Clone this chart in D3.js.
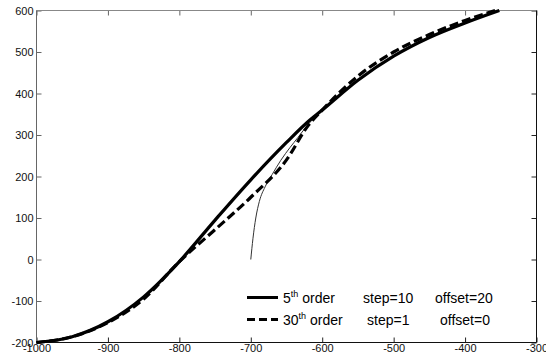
<!DOCTYPE html>
<html>
<head>
<meta charset="utf-8">
<script src="https://cdn.jsdelivr.net/npm/d3@7"></script>
<style>
  body { margin: 0; background: #fff; }
  text { font-family: Arial, "Liberation Sans", sans-serif; }
</style>
</head>
<body>
<div id="chart"></div>
<script>
// curve values
const xTicks = [-1000, -900, -800, -700, -600, -500, -400, -300];
const yTicks = [-200, -100, 0, 100, 200, 300, 400, 500, 600];

const order5 = [
    [-1000, -200], [-950, -186], [-900, -150], [-850, -90], [-800, -5],
    [-750, 95], [-700, 192], [-650, 282], [-620, 332], [-600, 360],
    [-550, 432], [-500, 490], [-450, 535], [-400, 570], [-352, 600]
];
const order30 = [
    [-1000, -200], [-950, -186], [-900, -152], [-850, -95], [-800, -5],
    [-750, 72], [-700, 150], [-650, 240], [-620, 322], [-600, 360],
    [-550, 442], [-500, 500], [-450, 542], [-400, 576], [-358, 600]
];
const thin = [
    [-700, 0], [-697, 50], [-693, 100], [-688, 140], [-680, 175],
    [-670, 205], [-658, 239], [-645, 270], [-634, 294], [-620, 325], [-605, 352]
];

const svgWidth = 546, svgHeight = 361;
const margin = { top: 10.5, left: 36.5, right: 9.5, bottom: 18.5 };
const width = svgWidth - margin.left - margin.right;
const height = svgHeight - margin.top - margin.bottom;

const svg = d3.select('#chart')
    .append('svg')
    .attr('width', svgWidth)
    .attr('height', svgHeight)
    .append('g')
    .attr('transform', `translate(${margin.left}, ${margin.top})`);

const x = d3.scaleLinear().domain([-1000, -300]).range([0, width]);
const y = d3.scaleLinear().domain([-200, 600]).range([height, 0]);

//ticks pointing inwards on all four sides
const tickLen = 5;
const fmt = d => String(d);
const styleAxis = (g, col) => {
    g.select('.domain').remove();
    g.selectAll('.tick line').attr('stroke', col);
    g.selectAll('.tick text').attr('fill', '#111').style('font-size', '11px');
};

svg.append('g')
    .attr('transform', `translate(0, ${height})`)
    .call(d3.axisBottom(x).tickValues(xTicks).tickFormat(fmt).tickSizeInner(-tickLen).tickSizeOuter(0).tickPadding(2))
    .call(g => styleAxis(g, '#222'));

svg.append('g')
    .call(d3.axisLeft(y).tickValues(yTicks).tickFormat(fmt).tickSizeInner(-tickLen).tickSizeOuter(0).tickPadding(3))
    .call(g => styleAxis(g, '#666'));

svg.append('g')
    .call(d3.axisTop(x).tickValues(xTicks).tickSizeInner(-tickLen).tickSizeOuter(0).tickFormat(''))
    .call(g => styleAxis(g, '#666'));

svg.append('g')
    .attr('transform', `translate(${width}, 0)`)
    .call(d3.axisRight(y).tickValues(yTicks).tickSizeInner(-tickLen).tickSizeOuter(0).tickFormat(''))
    .call(g => styleAxis(g, '#222'));

//box: grey top/left, dark right/bottom
svg.append('line').attr('x1', 0).attr('x2', width).attr('y1', 0).attr('y2', 0).attr('stroke', '#888');
svg.append('line').attr('x1', 0).attr('x2', 0).attr('y1', 0).attr('y2', height).attr('stroke', '#666');
svg.append('line').attr('x1', width).attr('x2', width).attr('y1', 0).attr('y2', height).attr('stroke', '#111');
svg.append('line').attr('x1', 0).attr('x2', width).attr('y1', height).attr('y2', height).attr('stroke', '#111');

const line = d3.line()
    .x(d => x(d[0]))
    .y(d => y(d[1]))
    .curve(d3.curveMonotoneX);

svg.append('path').datum(thin)
    .attr('d', line)
    .attr('fill', 'none')
    .attr('stroke', '#333')
    .attr('stroke-width', 1);

svg.append('path').datum(order5)
    .attr('d', line)
    .attr('fill', 'none')
    .attr('stroke', '#000')
    .attr('stroke-width', 3.2);

svg.append('path').datum(order30)
    .attr('d', line)
    .attr('fill', 'none')
    .attr('stroke', '#000')
    .attr('stroke-width', 3.2)
    .attr('stroke-dasharray', '9,4');

//legend
const legend = svg.append('g').attr('transform', `translate(${247 - margin.left}, ${297.5 - margin.top})`);
const rows = [
    { dash: null, ord: '5', step: 'step=10', off: 'offset=20', stepX: 116, offX: 188 },
    { dash: '8,4', ord: '30', step: 'step=1', off: 'offset=0', stepX: 120, offX: 193 }
];
rows.forEach((r, i) => {
    const g = legend.append('g').attr('transform', `translate(0, ${i * 22})`);
    g.append('line')
        .attr('x1', 0).attr('x2', 31).attr('y1', 0).attr('y2', 0)
        .attr('stroke', '#000').attr('stroke-width', 3)
        .attr('stroke-dasharray', r.dash);
    const t = g.append('text').attr('x', 36).attr('y', 5).style('font-size', '14px').attr('fill', '#000');
    t.append('tspan').text(r.ord);
    t.append('tspan').attr('dy', -6).style('font-size', '9px').text('th');
    t.append('tspan').attr('dy', 6).text(' order');
    g.append('text').attr('x', r.stepX).attr('y', 5).style('font-size', '14px').text(r.step);
    g.append('text').attr('x', r.offX).attr('y', 5).style('font-size', '14px').text(r.off);
});
</script>
</body>
</html>
